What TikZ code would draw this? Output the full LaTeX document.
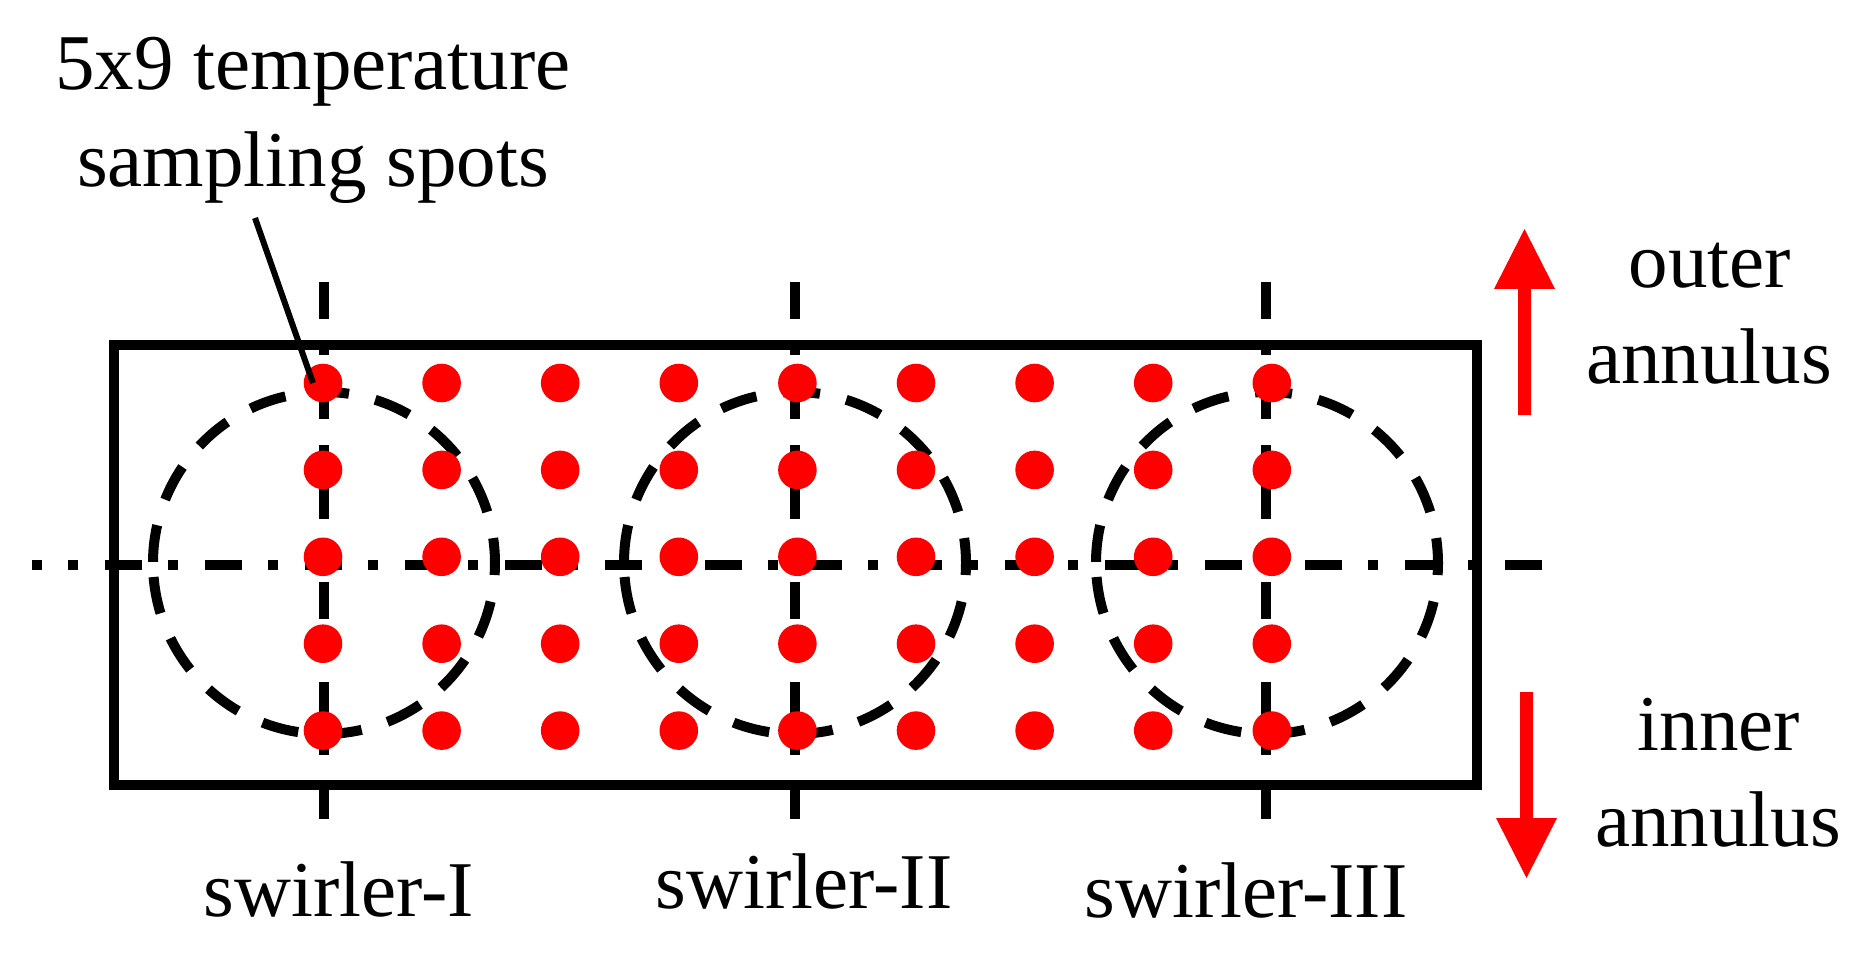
\documentclass[tikz,border=0pt]{standalone}
\usepackage{fontspec}
\setmainfont{Liberation Serif}
\definecolor{spotred}{RGB}{255,0,0}
\tikzset{
  lbl/.style={font=\fontsize{79pt}{97pt}\selectfont, inner sep=0pt, anchor=base},
  spot/.style={circle, fill=spotred, inner sep=0pt, minimum size=38.6pt},
  chamberbox/.style={draw, line width=10pt, inner sep=0pt, minimum width=1363pt, minimum height=440pt},
  axisline/.style={line width=10pt, dash pattern=on 37pt off 26pt on 10pt off 27pt},
  ring/.style={line width=10pt, dash pattern=on 37pt off 26.9pt},
  leader/.style={line width=6pt},
  annarrow/.pic={\fill[spotred] (-6.5,-186) -- (6.5,-186) -- (6.5,-60) -- (30.5,-60) -- (0,0) -- (-30.5,-60) -- (-6.5,-60) -- cycle;}
}
\begin{document}
\begin{tikzpicture}[x=1pt,y=1pt]
\useasboundingbox (0,0) rectangle (1873,-957);
% chamber outline
\node[chamberbox] (chamber) at (795.5,-565) {};
% horizontal centre line
\coordinate (hl) at (32,-565);
\coordinate (hr) at (1543,-565);
\draw[axisline, dash phase=27pt] (hl) -- (hr);
% swirler axes
\foreach \k/\x in {1/324,2/795,3/1266}{
  \coordinate (vt\k) at (\x,-282);
  \coordinate (vb\k) at (\x,-819);
  \draw[axisline] (vt\k) -- (vb\k);
}
% swirler circles
\foreach \k/\x in {1/324,2/795,3/1267}{
  \coordinate (c\k) at (\x,-563);
  \draw[ring] ([shift={(184.7:171pt)}]c\k) arc[start angle=184.7, end angle=544.7, radius=171pt];
}
% sampling spots
\foreach \i in {0,...,8}{
  \foreach \j in {0,...,4}{
    \node[spot] (d\i\j) at ({323+118.6*\i},{-383-86.9*\j}) {};
  }
}
% labels
\node[lbl] (spots1) at (313,-90) {5x9 temperature};
\node[lbl] (spots2) at (313,-187) {sampling spots};
\coordinate (leadstart) at (255,-218);
\draw[leader] (leadstart) -- ([xshift=-10pt]d00.center);
\node[lbl] (outer1) at (1710,-288) {outer};
\node[lbl] (outer2) at (1709,-383) {annulus};
\node[lbl] (inner1) at (1719,-750) {inner};
\node[lbl] (inner2) at (1718,-846) {annulus};
\node[lbl] (sw1) at (339,-916) {swirler-I};
\node[lbl] (sw2) at (804,-908) {swirler-II};
\node[lbl] (sw3) at (1246,-917) {swirler-III};
% direction arrows
\coordinate (uptip) at (1524.5,-229);
\coordinate (downtip) at (1526.5,-878);
\pic at (uptip) {annarrow};
\pic[rotate=180] at (downtip) {annarrow};
\end{tikzpicture}
\end{document}
